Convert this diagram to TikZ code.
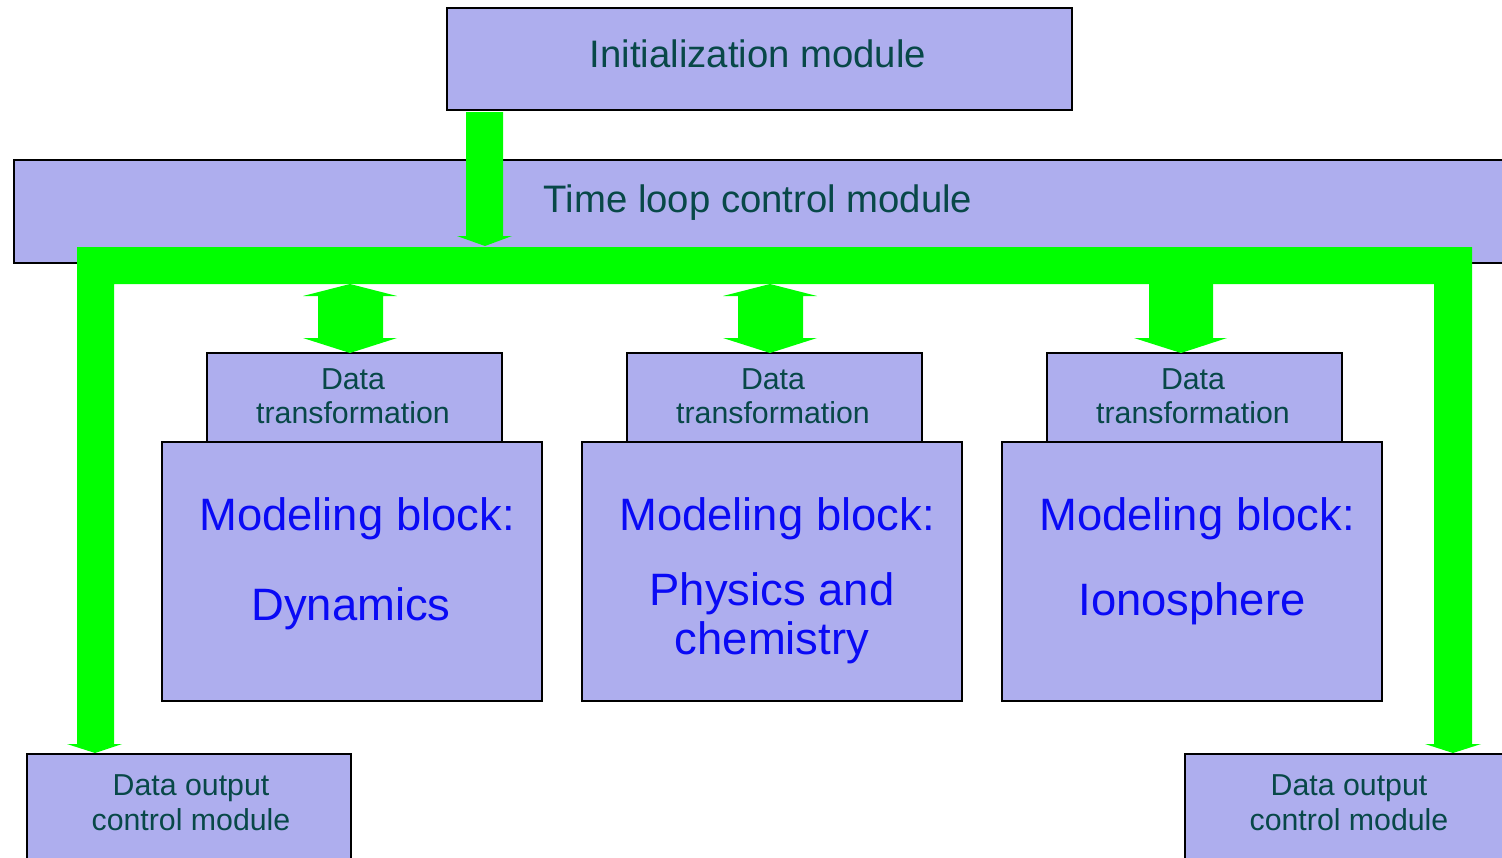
\documentclass[tikz,border=0pt]{standalone}
\usepackage{fontspec}
\setmainfont{Liberation Sans}
\definecolor{boxfill}{RGB}{174,174,238}
\definecolor{darkteal}{RGB}{8,72,72}
\definecolor{modblue}{RGB}{10,10,245}
\definecolor{flowgreen}{RGB}{0,255,0}
\tikzset{
  box/.style={draw=black, line width=1.5pt, fill=boxfill, rectangle, inner sep=0pt, outer sep=0pt, anchor=north west},
  bigtxt/.style={anchor=base, inner sep=0pt, text=darkteal, font=\fontsize{38.3}{44}\selectfont},
  smalltxt/.style={anchor=base, inner sep=0pt, text=darkteal, font=\fontsize{30.3}{34}\selectfont},
  modtxt/.style={anchor=base, inner sep=0pt, text=modblue, font=\fontsize{45.4}{50}\selectfont},
  flow/.style={fill=flowgreen, draw=none}
}
\begin{document}
\begin{tikzpicture}[x=1pt,y=-1pt]
\useasboundingbox (0,0) rectangle (1502,857);
% boxes
\node[box, minimum width=625pt, minimum height=102pt] (init) at (447,8) {};
\node[box, minimum width=1520pt, minimum height=103pt] (loop) at (14,160) {};
\node[box, minimum width=295pt, minimum height=89pt] (dt1) at (207,353) {};
\node[box, minimum width=295pt, minimum height=89pt] (dt2) at (627,353) {};
\node[box, minimum width=295pt, minimum height=89pt] (dt3) at (1047,353) {};
\node[box, minimum width=380pt, minimum height=259pt] (mb1) at (162,442) {};
\node[box, minimum width=380pt, minimum height=259pt] (mb2) at (582,442) {};
\node[box, minimum width=380pt, minimum height=259pt] (mb3) at (1002,442) {};
\node[box, minimum width=324pt, minimum height=120pt] (out1) at (27,754) {};
\node[box, minimum width=340pt, minimum height=120pt] (out2) at (1185,754) {};
% texts
\node[bigtxt] (tinit) at (758,67) {Initialization module};
\node[bigtxt] (tloop) at (758,212) {Time loop control module};
\node[smalltxt] (tdt1a) at (353,389) {Data};
\node[smalltxt] (tdt1b) at (353,423) {transformation};
\node[smalltxt] (tdt2a) at (773,389) {Data};
\node[smalltxt] (tdt2b) at (773,423) {transformation};
\node[smalltxt] (tdt3a) at (1193,389) {Data};
\node[smalltxt] (tdt3b) at (1193,423) {transformation};
\node[modtxt] (tmb1a) at (357,530) {Modeling block:};
\node[modtxt] (tmb1b) at (351,620) {Dynamics};
\node[modtxt] (tmb2a) at (777,530) {Modeling block:};
\node[modtxt] (tmb2b) at (772,605) {Physics and};
\node[modtxt] (tmb2c) at (772,654) {chemistry};
\node[modtxt] (tmb3a) at (1197,530) {Modeling block:};
\node[modtxt] (tmb3b) at (1192,615) {Ionosphere};
\node[smalltxt] (tout1a) at (191,795) {Data output};
\node[smalltxt] (tout1b) at (191,830) {control module};
\node[smalltxt] (tout2a) at (1349,795) {Data output};
\node[smalltxt] (tout2b) at (1349,830) {control module};
% green flow shapes
\fill[flow] (77,247) -- (1472,247) -- (1472,744) -- (1481,744) -- (1453,753) -- (1425,744) -- (1434,744) -- (1434,284) -- (114,284) -- (114,744) -- (122,744) -- (95,753) -- (67,744) -- (77,744) -- cycle;
\fill[flow] (466,112) -- (503,112) -- (503,236) -- (512,236) -- (485,246) -- (457,236) -- (466,236) -- cycle;
\fill[flow] (350,284) -- (397,296) -- (383,296) -- (383,338) -- (397,338) -- (350,353) -- (303,338) -- (318,338) -- (318,296) -- (303,296) -- cycle;
\fill[flow] (770,284) -- (817,296) -- (803,296) -- (803,338) -- (817,338) -- (770,353) -- (723,338) -- (738,338) -- (738,296) -- (723,296) -- cycle;
\fill[flow] (1149,284) -- (1213,284) -- (1213,338) -- (1227,338) -- (1181,353) -- (1134,338) -- (1149,338) -- cycle;
\end{tikzpicture}
\end{document}
